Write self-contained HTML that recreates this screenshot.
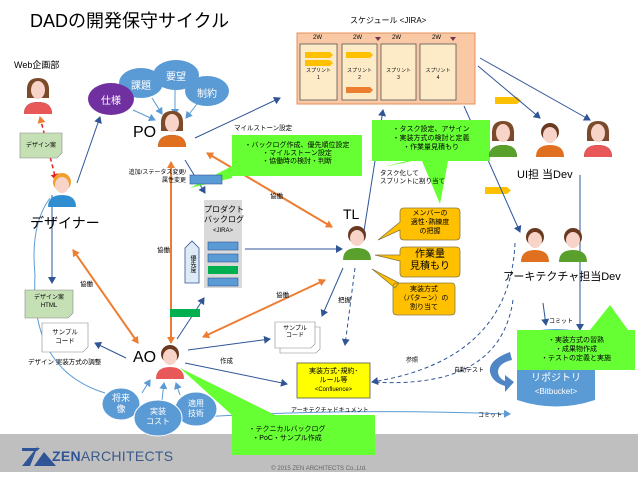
<!DOCTYPE html>
<html><head><meta charset="utf-8"><style>
*{margin:0;padding:0;box-sizing:border-box}
body{width:638px;height:479px;overflow:hidden;background:#fff;font-family:"Liberation Sans","Noto Sans CJK JP",sans-serif;position:relative}
.a{position:absolute;white-space:nowrap}
.c{text-align:center}
</style></head><body>
<svg width="638" height="479" style="position:absolute;left:0;top:0">
<defs>
<marker id="ab" markerWidth="8" markerHeight="8" refX="6" refY="4" orient="auto" markerUnits="userSpaceOnUse"><path d="M0,0L7,4L0,8z" fill="#2f5597"/></marker>
<marker id="ao" markerWidth="8" markerHeight="8" refX="6" refY="4" orient="auto" markerUnits="userSpaceOnUse"><path d="M0,0L7,4L0,8z" fill="#ed7d31"/></marker>
<marker id="aos" markerWidth="8" markerHeight="8" refX="1" refY="4" orient="auto" markerUnits="userSpaceOnUse"><path d="M7,0L0,4L7,8z" fill="#ed7d31"/></marker>
<marker id="ar" markerWidth="8" markerHeight="8" refX="6" refY="4" orient="auto" markerUnits="userSpaceOnUse"><path d="M0,0L7,4L0,8z" fill="#e02020"/></marker>
<marker id="arl" markerWidth="8" markerHeight="8" refX="6" refY="4" orient="auto" markerUnits="userSpaceOnUse"><path d="M0,0L7,4L0,8z" fill="#5b9bd5"/></marker>
<g id="pf"><path d="M-11,-8 Q-12,-22 0,-22 Q12,-22 11,-8 L11,-2 L-11,-2z" fill="#7a4a2a"/><ellipse cx="0" cy="-10" rx="7" ry="9" fill="#f7d3c8"/><path d="M-14,14 Q-14,2 0,2 Q14,2 14,14z" fill="COL"/></g>
</defs>
<!-- footer -->
<rect x="0" y="434" width="638" height="38" fill="#bfbfbf"/>
<rect x="0" y="472" width="638" height="7" fill="#fff"/>
<!-- schedule -->
<rect x="297" y="33" width="178" height="71" fill="#f8c9a4" stroke="#e3905a"/>
<g fill="#fdebc8" stroke="#555" stroke-width="0.8">
<rect x="300" y="44" width="37" height="56"/><rect x="342" y="44" width="35" height="56"/><rect x="381" y="44" width="35" height="56"/><rect x="420" y="44" width="36" height="56"/></g>
<g fill="#ffc000"><path d="M305,52h25l3,3l-3,3h-25z"/><path d="M305,60h25l3,3l-3,3h-25z"/><path d="M346,52h24l3,3l-3,3h-24z"/><path d="M495,97h22l4,3.5l-4,3.5h-22z"/><path d="M485,187h22l4,3.5l-4,3.5h-22z"/></g>
<path d="M346,87h24l3,3l-3,3h-24z" fill="#ed7d31"/>
<path d="M375,37l3,4l3,-4z M450,37l3,4l3,-4z" fill="#7a3050"/>
<!-- blue lines -->
<g stroke="#2f5597" stroke-width="1" fill="none" marker-end="url(#ab)">
<line x1="77" y1="183" x2="100" y2="117"/>
<line x1="195" y1="138" x2="280" y2="98"/>
<line x1="185" y1="160" x2="205" y2="193"/>
<line x1="245" y1="249" x2="342" y2="249"/>
<line x1="364" y1="231" x2="383" y2="110"/>
<line x1="478" y1="66" x2="540" y2="118"/>
<line x1="480" y1="58" x2="590" y2="120"/>
<line x1="464" y1="106" x2="520" y2="232"/>
<line x1="52" y1="195" x2="52" y2="283"/>
<line x1="126" y1="358" x2="95" y2="343"/>
<line x1="177" y1="339" x2="204" y2="298"/>
<line x1="188" y1="350" x2="270" y2="339"/>
<line x1="185" y1="363" x2="287" y2="384"/>
<line x1="543" y1="303" x2="546" y2="325"/>
<line x1="580" y1="175" x2="580" y2="330"/>
<line x1="343" y1="268" x2="322" y2="316"/>
</g>
<g stroke="#5b9bd5" stroke-width="1" fill="none" marker-end="url(#arl)">
<line x1="133" y1="110" x2="155" y2="120"/><line x1="152" y1="98" x2="162" y2="114"/><line x1="175" y1="90" x2="175" y2="115"/><line x1="197" y1="104" x2="186" y2="118"/>
<line x1="142" y1="393" x2="150" y2="380"/><line x1="162" y1="400" x2="164" y2="383"/><line x1="180" y1="395" x2="176" y2="383"/>
<path d="M105,393 Q30,370 35,275 Q30,225 50,198" stroke="#5b9bd5" marker-end="none"/>
<path d="M200,417 Q350,408 510,414" />
</g>
<path d="M505,423 Q480,418 480,420" stroke="none" fill="none"/>
<!-- dashed -->
<g stroke="#2f5597" stroke-width="1" fill="none" stroke-dasharray="4,3">
<line x1="355" y1="268" x2="345" y2="345" marker-end="url(#ab)"/>
<path d="M515,243 Q510,360 372,382" marker-end="url(#ab)"/>
<path d="M513,300 Q500,390 372,382" />
</g>
<line x1="40" y1="117" x2="56" y2="180" stroke="#e02020" stroke-width="1.5" stroke-dasharray="4,3" marker-end="url(#ar)" marker-start="url(#aos)"/>
<!-- orange lines -->
<g stroke="#ed7d31" stroke-width="2" fill="none" marker-end="url(#ao)" marker-start="url(#aos)">
<line x1="73" y1="250" x2="138" y2="343"/>
<line x1="171" y1="162" x2="171" y2="343"/>
<line x1="207" y1="153" x2="332" y2="227"/>
<line x1="203" y1="337" x2="325" y2="280"/>
</g>
<!-- curved auto test -->
<path d="M510,352 Q488,360 490,372 Q492,382 505,386 L505,392 L514,382 L505,375 L505,381 Q498,378 498,371 Q499,363 512,360z" fill="#4f86c6"/>
<!-- bubbles -->
<ellipse cx="141" cy="83" rx="22" ry="15" fill="#5b9bd5"/>
<ellipse cx="176" cy="75" rx="23" ry="15" fill="#5b9bd5"/>
<ellipse cx="207" cy="91" rx="22" ry="15" fill="#5b9bd5"/>
<ellipse cx="111" cy="99" rx="23" ry="16" fill="#7030a0"/>
<ellipse cx="121" cy="404" rx="19" ry="16" fill="#5b9bd5" stroke="#fff"/>
<ellipse cx="196" cy="409" rx="21" ry="17" fill="#5b9bd5" stroke="#fff"/>
<ellipse cx="158" cy="418" rx="24" ry="18" fill="#5b9bd5" stroke="#fff"/>
<!-- green speech boxes -->
<path d="M232,135h130v41h-130v2l-42,10l42,-22z" fill="#66ff33"/>
<path d="M372,120h118v41h-42l-8,43l-18,-43h-10l-28,6l22,-6h-34z" fill="#66ff33"/>
<!-- repo -->
<path d="M517,335 Q556,323 595,335 V400 Q556,413 517,400z" fill="#5b9bd5"/>
<path d="M517,330h118v40h-118z M590,330l20,-25l18,25z" fill="#66ff33"/>
<path d="M232,415h143v40h-143z M232,415l-52,-47l95,47z" fill="#66ff33"/>
<!-- backlog -->
<rect x="204" y="200" width="38" height="88" fill="#d9d9d9"/>
<g fill="#5b9bd5" stroke="#2f5597" stroke-width="0.6"><rect x="208" y="242" width="30" height="8"/><rect x="208" y="254" width="30" height="8"/><rect x="208" y="278" width="30" height="8"/><rect x="190" y="175" width="32" height="9"/></g>
<rect x="208" y="266" width="30" height="8" fill="#00b050"/>
<rect x="170" y="309" width="30" height="8" fill="#00b050"/>
<path d="M185,248l7,-7l7,7v35h-14z" fill="#deebf7" stroke="#2f5597" stroke-width="0.8"/>
<!-- notes -->
<path d="M20,133h42v20l-5,5h-37z" fill="#c5e0b4" stroke="#888" stroke-width="0.6"/>
<path d="M25,290h48v23l-5,5h-43z" fill="#c5e0b4" stroke="#888" stroke-width="0.6"/>
<path d="M42,323h46v24l-5,5h-41z" fill="#fff" stroke="#888" stroke-width="0.6"/>
<path d="M280,327h40v22l-4,4h-36z" fill="#fff" stroke="#888" stroke-width="0.6"/>
<path d="M275,322h40v22l-4,4h-36z" fill="#fff" stroke="#888" stroke-width="0.6"/>
<rect x="297" y="363" width="73" height="35" fill="#ffff00" stroke="#555" stroke-width="0.8"/>
<!-- orange callouts -->
<g fill="#ffc000" stroke="#8a7a40" stroke-width="0.8">
<path d="M400,212q0,-4 4,-4h52q4,0 4,4v24q0,4 -4,4h-52q-4,0 -4,-4v-6l-22,10l22,-18z"/>
<path d="M400,251q0,-4 4,-4h52q4,0 4,4v22q0,4 -4,4h-52q-4,0 -4,-4v-12l-25,-6l25,0z"/>
<path d="M393,287q0,-4 4,-4h54q4,0 4,4v24q0,4 -4,4h-54q-4,0 -4,-4z M395,288l-23,-19l27,14z"/>
</g>
<!-- persons -->
<g transform="translate(38,100)"><use href="#pf"/><path d="M-14,14 Q-14,2 0,2 Q14,2 14,14z" fill="#e85858"/></g>
<g transform="translate(172,133)"><use href="#pf"/><path d="M-14,14 Q-14,2 0,2 Q14,2 14,14z" fill="#e07020"/></g>
<g transform="translate(503,143)"><use href="#pf"/><path d="M-14,14 Q-14,2 0,2 Q14,2 14,14z" fill="#5aa02c"/></g>
<g transform="translate(598,143)"><use href="#pf"/><path d="M-14,14 Q-14,2 0,2 Q14,2 14,14z" fill="#e85858"/></g>
<g fill="#f7d3c8">
<g transform="translate(62,193)"><circle cx="0" cy="-11" r="9" fill="#f0a030"/><ellipse cx="0" cy="-8" rx="7" ry="8"/><path d="M-14,14 Q-14,2 0,2 Q14,2 14,14z" fill="#2e8ed0"/></g>
<g transform="translate(550,143)"><circle cx="0" cy="-11" r="9" fill="#6a3a20"/><ellipse cx="0" cy="-8" rx="7" ry="8"/><path d="M-14,14 Q-14,2 0,2 Q14,2 14,14z" fill="#e07020"/></g>
<g transform="translate(357,246)"><circle cx="0" cy="-11" r="9" fill="#6a3a20"/><ellipse cx="0" cy="-8" rx="7" ry="8"/><path d="M-14,14 Q-14,2 0,2 Q14,2 14,14z" fill="#5aa02c"/></g>
<g transform="translate(535,248)"><circle cx="0" cy="-11" r="9" fill="#6a3a20"/><ellipse cx="0" cy="-8" rx="7" ry="8"/><path d="M-14,14 Q-14,2 0,2 Q14,2 14,14z" fill="#e07020"/></g>
<g transform="translate(573,248)"><circle cx="0" cy="-11" r="9" fill="#6a3a20"/><ellipse cx="0" cy="-8" rx="7" ry="8"/><path d="M-14,14 Q-14,2 0,2 Q14,2 14,14z" fill="#5aa02c"/></g>
<g transform="translate(170,365)"><circle cx="0" cy="-11" r="9" fill="#6a3a20"/><ellipse cx="0" cy="-8" rx="7" ry="8"/><path d="M-14,14 Q-14,2 0,2 Q14,2 14,14z" fill="#e85858"/></g>
</g>
<!-- logo -->
<path d="M22,466L38,446L30,466z M34,466L44,452L56,466z" fill="#2f5597"/>
<path d="M22,448h18l-3,3h-15z" fill="#2f5597"/>
</svg>
<div class="a" style="left:30px;top:7px;font-size:18px">DADの開発保守サイクル</div>
<div class="a" style="left:350px;top:15px;font-size:8px">スケジュール &lt;JIRA&gt;</div>
<div class="a" style="left:313px;top:35px;font-size:6px">2W</div><div class="a" style="left:353px;top:35px;font-size:6px">2W</div><div class="a" style="left:392px;top:35px;font-size:6px">2W</div><div class="a" style="left:432px;top:35px;font-size:6px">2W</div>
<div class="a c" style="left:300px;top:68px;width:37px;font-size:5px;line-height:7px">スプリント<br>1</div>
<div class="a c" style="left:342px;top:68px;width:35px;font-size:5px;line-height:7px">スプリント<br>2</div>
<div class="a c" style="left:381px;top:68px;width:35px;font-size:5px;line-height:7px">スプリント<br>3</div>
<div class="a c" style="left:420px;top:68px;width:36px;font-size:5px;line-height:7px">スプリント<br>4</div>
<div class="a" style="left:14px;top:58px;font-size:9px">Web企画部</div>
<div class="a c" style="left:20px;top:140px;width:42px;font-size:6px">デザイン案</div>
<div class="a" style="left:30px;top:213px;font-size:14px">デザイナー</div>
<div class="a c" style="left:88px;top:92px;width:46px;font-size:10px;color:#fff">仕様</div>
<div class="a c" style="left:119px;top:77px;width:44px;font-size:10px;color:#fff">課題</div>
<div class="a c" style="left:153px;top:68px;width:46px;font-size:10px;color:#fff">要望</div>
<div class="a c" style="left:185px;top:85px;width:44px;font-size:10px;color:#fff">制約</div>
<div class="a" style="left:133px;top:124px;font-size:16px">PO</div>
<div class="a" style="left:234px;top:122px;font-size:6.5px">マイルストーン設定</div>
<div class="a c" style="left:232px;top:142px;width:130px;font-size:7px;line-height:8px">・バックログ作成、優先順位設定<br>・マイルストーン設定<br>・協働時の検討・判断</div>
<div class="a" style="left:120px;top:169px;font-size:6px;text-align:right;line-height:8px;width:66px">追加/ステータス変更/<br>属性変更</div>
<div class="a c" style="left:204px;top:205px;width:38px;font-size:8px;line-height:10px">プロダクト<br>バックログ<br><span style="font-size:6px">&lt;JIRA&gt;</span></div>
<div class="a" style="left:188px;top:255px;font-size:6px;writing-mode:vertical-rl">優先度</div>
<div class="a" style="left:270px;top:190px;font-size:6.5px">協働</div>
<div class="a" style="left:157px;top:244px;font-size:6.5px">協働</div>
<div class="a" style="left:80px;top:278px;font-size:6.5px">協働</div>
<div class="a" style="left:276px;top:289px;font-size:6.5px">協働</div>
<div class="a" style="left:343px;top:206px;font-size:14px">TL</div>
<div class="a c" style="left:372px;top:125px;width:118px;font-size:7px;line-height:9px">・タスク設定、アサイン<br>・実装方式の検討と定義<br>・作業量見積もり</div>
<div class="a" style="left:380px;top:170px;font-size:6.5px;line-height:8px">タスク化して<br>スプリントに割り当て</div>
<div class="a c" style="left:400px;top:209px;width:60px;font-size:7px;line-height:9px">メンバーの<br>適性･熟練度<br>の把握</div>
<div class="a c" style="left:400px;top:249px;width:60px;font-size:10px;line-height:12px">作業量<br>見積もり</div>
<div class="a c" style="left:393px;top:285px;width:62px;font-size:7px;line-height:9px">実装方式<br>（パターン）の<br>割り当て</div>
<div class="a" style="left:517px;top:166px;font-size:11px">UI担 当Dev</div>
<div class="a" style="left:503px;top:268px;font-size:11px">アーキテクチャ担当Dev</div>
<div class="a" style="left:338px;top:294px;font-size:6.5px">把握</div>
<div class="a" style="left:549px;top:316px;font-size:6px">コミット</div>
<div class="a c" style="left:517px;top:336px;width:118px;font-size:7px;line-height:9px">・実装方式の習熟<br>・成果物作成<br>・テストの定義と実施</div>
<div class="a c" style="left:517px;top:372px;width:78px;font-size:10px;line-height:13px;color:#fff">リポジトリ<br><span style="font-size:8px">&lt;Bitbucket&gt;</span></div>
<div class="a" style="left:454px;top:365px;font-size:6px">自動テスト</div>
<div class="a" style="left:406px;top:355px;font-size:6px">参照</div>
<div class="a c" style="left:297px;top:367px;width:73px;font-size:7px;line-height:9px">実装方式･規約･<br>ルール等<br><span style="font-size:6px">&lt;Confluence&gt;</span></div>
<div class="a" style="left:291px;top:405px;font-size:6px">アーキテクチャドキュメント</div>
<div class="a c" style="left:275px;top:326px;width:40px;font-size:6px;line-height:7px">サンプル<br>コード</div>
<div class="a" style="left:220px;top:355px;font-size:6.5px">作成</div>
<div class="a" style="left:133px;top:349px;font-size:16px">AO</div>
<div class="a c" style="left:25px;top:294px;width:48px;font-size:6px;line-height:8px">デザイン案<br>HTML</div>
<div class="a c" style="left:42px;top:328px;width:46px;font-size:6.5px;line-height:9px">サンプル<br>コード</div>
<div class="a" style="left:28px;top:356px;font-size:6.5px">デザイン 実装方式の調整</div>
<div class="a c" style="left:102px;top:393px;width:38px;font-size:9px;line-height:11px;color:#fff">将来<br>像</div>
<div class="a c" style="left:134px;top:407px;width:48px;font-size:8px;line-height:10px;color:#fff">実装<br>コスト</div>
<div class="a c" style="left:175px;top:399px;width:42px;font-size:8px;line-height:10px;color:#fff">適用<br>技術</div>
<div class="a c" style="left:232px;top:425px;width:110px;font-size:7px;line-height:9px">・テクニカルバックログ<br>・PoC・サンプル作成</div>
<div class="a" style="left:478px;top:410px;font-size:6px">コミット</div>
<div class="a" style="left:52px;top:448px;font-size:14px;color:#2f5597;letter-spacing:0.3px"><b>ZEN</b><span style="color:#3a5a8a">ARCHITECTS</span></div>
<div class="a c" style="left:0;top:466px;width:638px;font-size:6px;color:#666">© 2015 ZEN ARCHITECTS Co.,Ltd.</div>
</body></html>
